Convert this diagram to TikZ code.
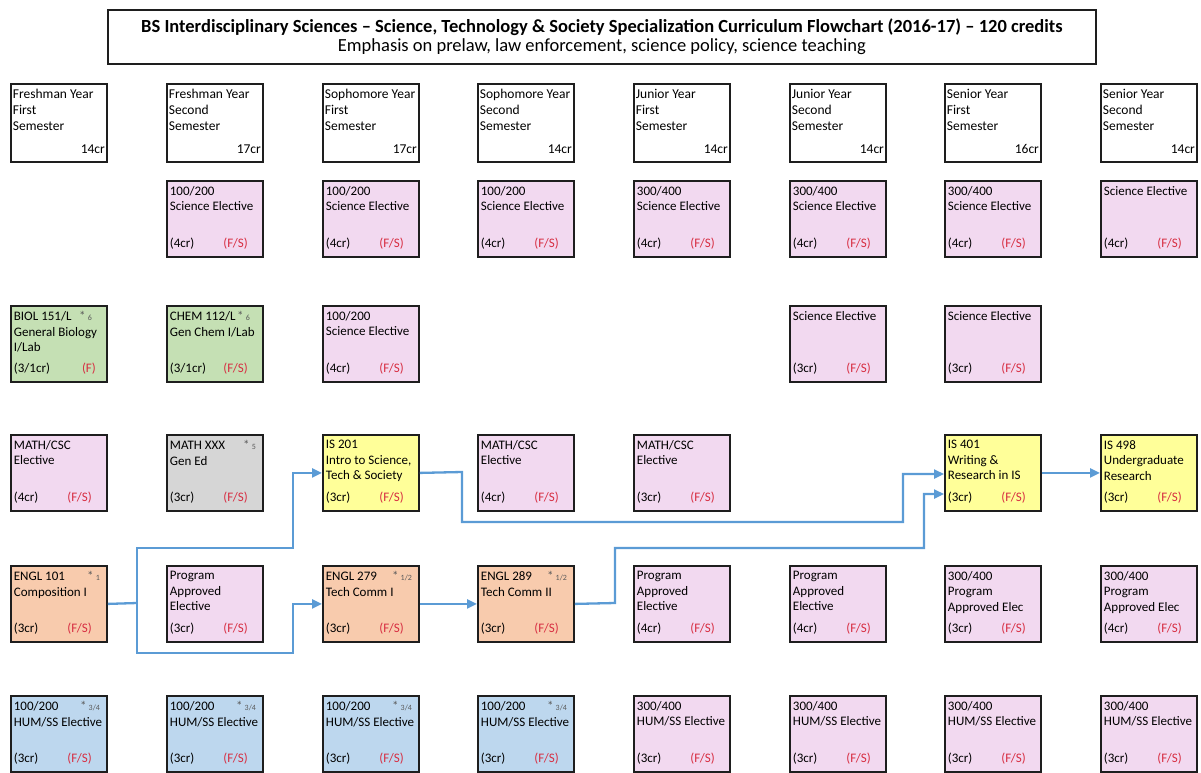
\documentclass[tikz,border=0pt]{standalone}
\usepackage{fontspec}
\setmainfont{Carlito}
\usetikzlibrary{arrows.meta}
\definecolor{cpink}{RGB}{242,217,240}
\definecolor{cgreen}{RGB}{197,224,180}
\definecolor{cgray}{RGB}{214,214,214}
\definecolor{cyellow}{RGB}{255,255,153}
\definecolor{corange}{RGB}{248,203,173}
\definecolor{cblue}{RGB}{189,215,238}
\definecolor{fsred}{RGB}{215,45,65}
\definecolor{arrowblue}{RGB}{91,155,213}
\definecolor{edge}{RGB}{30,30,30}
\definecolor{notegray}{RGB}{90,90,90}
\newcommand\cb[5]{\begin{minipage}[c][72pt][t]{90pt}\fontsize{13}{15.5}\selectfont\raggedright
\vspace*{3.5pt}\mbox{#1}\hfill{\color{notegray}#2}\hspace*{4pt}\par #3\par\vfill #4\hfill\textcolor{fsred}{#5}\hspace*{12pt}\par\vspace*{6pt}\end{minipage}}
\newcommand\hb[2]{\begin{minipage}[c][74pt][t]{92pt}\fontsize{13.5}{16}\selectfont
\vspace*{3.5pt}#1\par\vfill\hfill #2\par\vspace*{6pt}\end{minipage}}
\newcommand\nt[1]{*\,{\footnotesize #1}}
\newcommand\hum{\mbox{HUM/SS Elective}}
\tikzset{
  cbx/.style={draw=edge, line width=1.8pt, fill=#1, anchor=north west, inner xsep=3pt, inner ysep=2pt, minimum width=96pt, minimum height=76pt},
  hbx/.style={draw=edge, line width=1.8pt, fill=white, anchor=north west, inner xsep=2pt, inner ysep=2pt, minimum width=96pt, minimum height=78pt},
  conn/.style={draw=arrowblue, line width=2.3pt, -{Triangle[length=10pt,width=9pt]}},
  link/.style={draw=arrowblue, line width=2.3pt},
}
\begin{document}
\begin{tikzpicture}[x=1pt,y=-1pt]
\useasboundingbox (0,0) rectangle (1201,772);
% title
\node[draw=edge, line width=1.8pt, minimum width=988pt, minimum height=54pt, anchor=north west, inner sep=0pt, align=center, font=\fontsize{18.5}{18.5}\selectfont] (title) at (107,9)
 {\textbf{BS Interdisciplinary Sciences -- Science, Technology \& Society Specialization Curriculum Flowchart (2016-17) -- 120 credits}\\Emphasis on prelaw, law enforcement, science policy, science teaching};
% headers
\node[hbx] (h0) at (10,83) {\hb{Freshman Year\\First\\Semester}{14cr}};
\node[hbx] (h1) at (166,83) {\hb{Freshman Year\\Second\\Semester}{17cr}};
\node[hbx] (h2) at (322,83) {\hb{Sophomore Year\\First\\Semester}{17cr}};
\node[hbx] (h3) at (477,83) {\hb{Sophomore Year\\Second\\Semester}{14cr}};
\node[hbx] (h4) at (633,83) {\hb{Junior Year\\First\\Semester}{14cr}};
\node[hbx] (h5) at (789,83) {\hb{Junior Year\\Second\\Semester}{14cr}};
\node[hbx] (h6) at (944,83) {\hb{Senior Year\\First\\Semester}{16cr}};
\node[hbx] (h7) at (1100,83) {\hb{Senior Year\\Second\\Semester}{14cr}};
% row 1
\node[cbx=cpink] (s1) at (166,180) {\cb{100/200}{}{Science Elective}{(4cr)}{(F/S)}};
\node[cbx=cpink] (s2) at (322,180) {\cb{100/200}{}{Science Elective}{(4cr)}{(F/S)}};
\node[cbx=cpink] (s3) at (477,180) {\cb{100/200}{}{Science Elective}{(4cr)}{(F/S)}};
\node[cbx=cpink] (s4) at (633,180) {\cb{300/400}{}{Science Elective}{(4cr)}{(F/S)}};
\node[cbx=cpink] (s5) at (789,180) {\cb{300/400}{}{Science Elective}{(4cr)}{(F/S)}};
\node[cbx=cpink] (s6) at (944,180) {\cb{300/400}{}{Science Elective}{(4cr)}{(F/S)}};
\node[cbx=cpink] (s7) at (1100,180) {\cb{Science Elective}{}{}{(4cr)}{(F/S)}};
% row 2
\node[cbx=cgreen] (biol) at (10,305) {\cb{BIOL 151/L}{\nt{6}\hspace*{8pt}}{\mbox{General Biology}\\I/Lab}{(3/1cr)}{(F)\hspace*{-4pt}}};
\node[cbx=cgreen] (chem) at (166,305) {\cb{CHEM 112/L}{\nt{6}\hspace*{6pt}}{\mbox{Gen Chem I/Lab}}{(3/1cr)}{(F/S)}};
\node[cbx=cpink] (t2) at (322,305) {\cb{100/200}{}{Science Elective}{(4cr)}{(F/S)}};
\node[cbx=cpink] (t5) at (789,305) {\cb{Science Elective}{}{}{(3cr)}{(F/S)}};
\node[cbx=cpink] (t6) at (944,305) {\cb{Science Elective}{}{}{(3cr)}{(F/S)}};
% row 3
\node[cbx=cpink] (m0) at (10,434) {\cb{MATH/CSC}{}{Elective}{(4cr)}{(F/S)}};
\node[cbx=cgray] (m1) at (166,434) {\cb{MATH XXX}{\nt{5}}{Gen Ed}{(3cr)}{(F/S)}};
\node[cbx=cyellow] (is201) at (322,434) {\cb{IS 201}{}{\mbox{Intro to Science,}\\Tech \& Society}{(3cr)}{(F/S)}};
\node[cbx=cpink] (m3) at (477,434) {\cb{MATH/CSC}{}{Elective}{(4cr)}{(F/S)}};
\node[cbx=cpink] (m4) at (633,434) {\cb{MATH/CSC}{}{Elective}{(3cr)}{(F/S)}};
\node[cbx=cyellow] (is401) at (944,434) {\cb{IS 401}{}{Writing \&\\\mbox{Research in IS}}{(3cr)}{(F/S)}};
\node[cbx=cyellow] (is498) at (1100,434) {\cb{IS 498}{}{Undergraduate\\Research}{(3cr)}{(F/S)}};
% row 4
\node[cbx=corange] (e101) at (10,565) {\cb{ENGL 101}{\nt{1}}{Composition I}{(3cr)}{(F/S)}};
\node[cbx=cpink] (p1) at (166,565) {\cb{Program}{}{Approved\\Elective}{(3cr)}{(F/S)}};
\node[cbx=corange] (e279) at (322,565) {\cb{ENGL 279}{\nt{1/2}}{Tech Comm I}{(3cr)}{(F/S)}};
\node[cbx=corange] (e289) at (477,565) {\cb{ENGL 289}{\nt{1/2}}{Tech Comm II}{(3cr)}{(F/S)}};
\node[cbx=cpink] (p4) at (633,565) {\cb{Program}{}{Approved\\Elective}{(4cr)}{(F/S)}};
\node[cbx=cpink] (p5) at (789,565) {\cb{Program}{}{Approved\\Elective}{(4cr)}{(F/S)}};
\node[cbx=cpink] (p6) at (944,565) {\cb{300/400}{}{Program\\\mbox{Approved Elec}}{(3cr)}{(F/S)}};
\node[cbx=cpink] (p7) at (1100,565) {\cb{300/400}{}{Program\\\mbox{Approved Elec}}{(4cr)}{(F/S)}};
% row 5
\node[cbx=cblue] (u0) at (10,695) {\cb{100/200}{\nt{3/4}}{\hum}{(3cr)}{(F/S)}};
\node[cbx=cblue] (u1) at (166,695) {\cb{100/200}{\nt{3/4}}{\hum}{(3cr)}{(F/S)}};
\node[cbx=cblue] (u2) at (322,695) {\cb{100/200}{\nt{3/4}}{\hum}{(3cr)}{(F/S)}};
\node[cbx=cblue] (u3) at (477,695) {\cb{100/200}{\nt{3/4}}{\hum}{(3cr)}{(F/S)}};
\node[cbx=cpink] (u4) at (633,695) {\cb{300/400}{}{\hum}{(3cr)}{(F/S)}};
\node[cbx=cpink] (u5) at (789,695) {\cb{300/400}{}{\hum}{(3cr)}{(F/S)}};
\node[cbx=cpink] (u6) at (944,695) {\cb{300/400}{}{\hum}{(3cr)}{(F/S)}};
\node[cbx=cpink] (u7) at (1100,695) {\cb{300/400}{}{\hum}{(3cr)}{(F/S)}};
% connectors
\coordinate (j1) at (137,603);
\coordinate (a1) at (137,548);
\coordinate (a2) at (293,548);
\coordinate (b1) at (137,653);
\coordinate (b2) at (293,653);
\draw[link] (e101.east) -- (j1);
\draw[conn] (j1) -- (a1) -- (a2) |- (is201.west);
\draw[conn] (j1) -- (b1) -- (b2) |- (e279.west);
\draw[conn] (e279) -- (e289);
\coordinate (c1) at (462,472);
\coordinate (c2) at (462,522);
\coordinate (c3) at (903,522);
\coordinate (c4) at (903,474);
\draw[conn] (is201.east) -- (c1) -- (c2) -- (c3) -- (c4) -- (c4 -| is401.west);
\coordinate (d1) at (615,603);
\coordinate (d2) at (615,548);
\coordinate (d3) at (924,548);
\coordinate (d4) at (924,494);
\draw[conn] (e289.east) -- (d1) -- (d2) -- (d3) -- (d4) -- (d4 -| is401.west);
\draw[conn] (is401) -- (is498);
\end{tikzpicture}
\end{document}
